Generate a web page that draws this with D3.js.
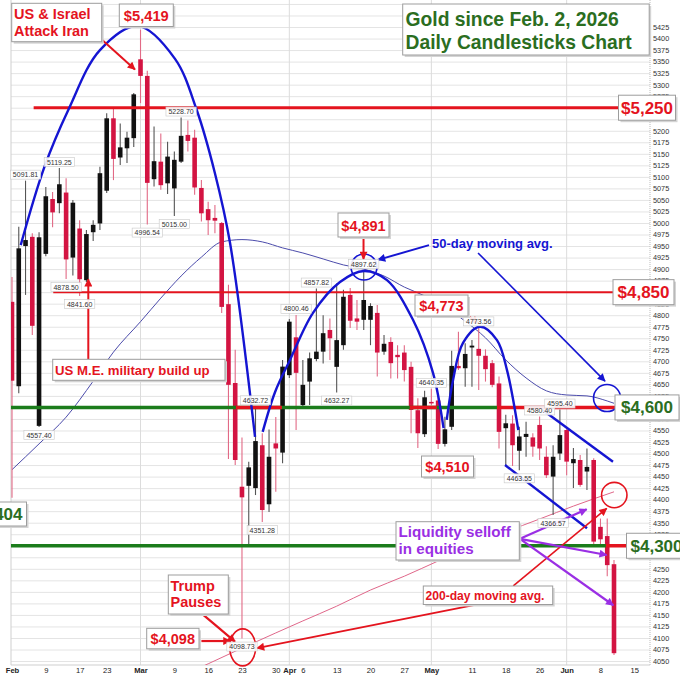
<!DOCTYPE html>
<html><head><meta charset="utf-8">
<script src="https://cdn.jsdelivr.net/npm/d3@7"></script>
<style>
html,body{margin:0;padding:0;background:#fff;}
svg{display:block;font-family:"Liberation Sans",Arial,sans-serif;}
</style></head><body>
<svg id="c" width="680" height="676"></svg>
<script>
// ---------------- DATA (trading-day index 0 = Feb 2, 2026) ----------------
const opens = [4829,4646,4950,4970,4560,4933,5052,5043,5066,4925,
  4988,4876,4980,4999,5070,5227,5142,5162,5184,5355,
  5319,5095,5133,5086,5075,5133,5191,5185,5076,5030,
  5011,5000,4824,4653,4428,4430,4425,4518,4390,4522,
  4502,4670,4752,4605,4656,4705,4721,4768,4688,4735,
  4844,4793,4790,4790,4805,4721,4742,4714,4719,4688,
  4594,4542,4612,4615,4521,4558,4690,4685,4730,4727,
  4712,4696,4652,4555,4565,4506,4536,4535,4562,4493,
  4450,4500,4551,4479,4486,4461,4486,4341,4321,4260];
const highs = [4883,4992,5091.81,4978,4980,5078,5067,5119.25,5097,5050,
  5006,4985,5006,5122,5238,5249,5216,5198,5282,5419,
  5330,5209,5194,5176,5155,5228.70,5222,5202,5093,5046,
  5039,5002,4866,4725,4535,4482,4603,4544,4552,4579,
  4703,4792,4800.46,4703,4719,4857.82,4800,4793,4869,4855,
  4859,4833,4897.62,4826,4822,4757,4752,4735,4735,4699,
  4620,4636,4640.35,4627,4580,4723,4764,4739,4746,4773.56,
  4726,4703,4667,4584,4583,4558,4569,4544,4580.40,4516,
  4518,4595.40,4558,4512,4497,4511,4490,4359,4359,4269];
const lows = [4404,4631,4844,4757,4557.40,4928,4991,5021,4878.50,4886,
  4841.60,4872,4961,4985,5065,5093,5126,5130,5165,5260,
  4996.54,5079,5072,5063,5015,5130,5155,5061,5003,4974,
  4978,4805,4488,4475,4098.73,4298,4410,4351.28,4373,4417,
  4479,4664,4551,4601,4605,4700,4695,4703,4632.27,4725,
  4772,4768,4768,4735,4667,4714,4663,4663,4656,4544,
  4512,4536,4605,4510,4515,4551,4681,4645,4645,4638,
  4656,4644,4511,4475,4473,4463.55,4493,4493,4486,4447,
  4366.57,4486,4453,4425,4428,4421,4298,4298,4234,4063];
const closes = [4658,4945,4963,4777,4969,5058,5023,5084,4921,5044,
  4878,4976,4996,5108,5227,5139,5164,5185,5279,5319,
  5087,5134,5082,5144,5137,5189,5178,5077,5021,5006,
  5005,4818,4649,4486,4405,4470,4527,4377.5,4493,4511,
  4688.5,4786,4675,4649,4706.5,4721,4761,4750,4746,4840,
  4788,4786,4833,4820,4719,4738,4696,4709,4681,4594.5,
  4544,4622,4609,4521,4552.5,4690,4685,4716,4734,4712,
  4683,4649,4547,4565.6,4518,4537,4542.6,4515,4511,4453,
  4493,4540,4482.5,4488,4432,4471,4309,4314,4258,4067];

// moving averages (day index, value)
const ma50Idx = [0,4,8,12,15,19,22,25,28,31,34,37,40,43,46,49,52,55,58,61,64,67,70,73,76,79,82,85,88,89];
const ma50Val = [4465,4521,4579,4657,4720,4786,4837,4885,4926,4959,4964,4959,4946,4935,4922,4909,4900,4885,4861,4842,4818,4787,4751,4703,4664,4636,4627,4625,4614,4609];
const ma200Idx = [24,29,34,39,43,48,53,58,63,68,73,78,83,89];
const ma200Val = [4011,4044,4078,4111,4137,4169,4204,4234,4267,4299,4330,4358,4386,4417];

// high / low price labels
const lblIdx  = [2,7,8,10,4,20,24,25,36,37,42,45,48,52,62,69,75,78,81,80,34];
const lblVal  = [5091.81,5119.25,4878.50,4841.60,4557.40,4996.54,5015.00,5228.70,4632.72,4351.28,4800.46,4857.82,4632.27,4897.62,4640.35,4773.56,4463.55,4580.40,4595.40,4366.57,4098.73];
const lblType = ['H','H','L','L','L','L','L','H','L','L','H','H','L','H','H','H','L','H','H','L','L'];

// x-axis ticks
const xTickIdx  = [0,5,10,14,19,24,29,34,39,41,43,48,53,58,62,68,73,78,82,87,92];
const xTickText = ['Feb','9','17','23','Mar','9','16','23','30','Apr','6','13','20','27','May','11','18','26','Jun','8','15'];
const monthIdx = [19,41,62,82];

// key price levels
const levels = [5250, 4850, 4600, 4300];

// y-axis ticks (the ones at the key levels sit under their price boxes)
const yGrid = d3.range(4050, 5476, 25);
const yTicks = d3.range(4050, 5426, 25).filter(v => !levels.includes(v));

// ---------------- CHART ----------------
const svg = d3.select('#c');
const x = d3.scaleLinear().domain([0, 89]).range([12, 614]);
const y = d3.scaleLinear().domain([4041.4, 5483.6]).range([665, 0]);
const RED = '#e4141e', CANDLE_RED = '#d31442', BLUE = '#1515d2', GREEN_LINE = '#1b7c1b',
      GREEN_TXT = '#2b6e1f', PURPLE = '#9a2fe4';

const defs = svg.append('defs');
defs.append('clipPath').attr('id', 'plot').append('rect')
  .attr('x', 11).attr('y', 0).attr('width', 639).attr('height', 665);
function marker(id, color) {
  defs.append('marker').attr('id', id).attr('viewBox', '0 0 10 10')
    .attr('refX', 9).attr('refY', 5).attr('markerWidth', 10).attr('markerHeight', 8)
    .attr('markerUnits', 'userSpaceOnUse').attr('orient', 'auto')
    .append('path').attr('d', 'M0,0L10,5L0,10Z').attr('fill', color);
}
marker('mr', RED); marker('mb', BLUE); marker('mp', PURPLE);

// grid
const grid = svg.append('g').attr('transform', 'translate(650,0)')
  .call(d3.axisLeft(y).tickValues(yGrid).tickSize(639).tickFormat(''));
grid.select('.domain').remove();
grid.selectAll('line').attr('stroke', '#e4e4e4').attr('stroke-width', 1);

svg.append('g').selectAll('line').data(monthIdx).join('line')
  .attr('x1', d => x(d)).attr('x2', d => x(d)).attr('y1', 0).attr('y2', 665)
  .attr('stroke', '#dcdcdc');
svg.append('line').attr('x1', 11).attr('x2', 11).attr('y1', 0).attr('y2', 665).attr('stroke', '#cfcfcf');
svg.append('line').attr('x1', 650).attr('x2', 650).attr('y1', 0).attr('y2', 665)
  .attr('stroke', '#bbb').attr('stroke-dasharray', '1,1');
svg.append('line').attr('x1', 11).attr('x2', 650).attr('y1', 665).attr('y2', 665).attr('stroke', '#cfcfcf');

// right axis labels
const ya = svg.append('g').attr('transform', 'translate(651,0)')
  .call(d3.axisRight(y).tickValues(yTicks).tickSize(0).tickPadding(2).tickFormat(d3.format('d')));
ya.select('.domain').remove();
ya.selectAll('text').attr('font-size', 7.3).attr('fill', '#333').attr('font-family', '"Liberation Sans",Arial,sans-serif');

// bottom axis labels
const xa = svg.append('g').attr('transform', 'translate(0,665)')
  .call(d3.axisBottom(x).tickValues(xTickIdx).tickSize(0).tickPadding(3).tickFormat((d, k) => xTickText[k]));
xa.select('.domain').remove();
xa.selectAll('text').attr('font-size', 7.6).attr('fill', '#222')
  .attr('font-family', '"Liberation Sans",Arial,sans-serif')
  .attr('font-weight', (d, k) => isNaN(+xTickText[k]) ? 'bold' : 'normal');

const plot = svg.append('g').attr('clip-path', 'url(#plot)');

// moving averages
const ma50 = ma50Idx.map((d, k) => [d, ma50Val[k]]);
const ma200 = ma200Idx.map((d, k) => [d, ma200Val[k]]);
const lineGen = d3.line().x(d => x(d[0])).y(d => y(d[1])).curve(d3.curveMonotoneX);
plot.append('path').datum(ma200).attr('d', lineGen).attr('fill', 'none').attr('stroke', '#e0678a').attr('stroke-width', 1);
plot.append('path').datum(ma50).attr('d', lineGen).attr('fill', 'none').attr('stroke', '#4b4bab').attr('stroke-width', 1);

// candles
const candles = d3.range(opens.length).map(i => ({i, o: opens[i], h: highs[i], l: lows[i], c: closes[i]}));
const cg = plot.append('g');
cg.selectAll('line').data(candles).join('line')
  .attr('x1', d => x(d.i)).attr('x2', d => x(d.i))
  .attr('y1', d => y(d.h)).attr('y2', d => y(d.l))
  .attr('stroke', d => d.c < d.o ? '#e26a86' : '#555').attr('stroke-width', 1.1);
cg.selectAll('rect').data(candles).join('rect')
  .attr('x', d => x(d.i) - 2.3).attr('width', 4.6)
  .attr('y', d => y(Math.max(d.o, d.c)))
  .attr('height', d => Math.max(1.5, Math.abs(y(d.o) - y(d.c))))
  .attr('fill', d => d.c < d.o ? CANDLE_RED : '#111');

// level lines
const lv = svg.append('g');
function hline(v, i0, i1, color, w) {
  lv.append('line').attr('x1', x(i0)).attr('x2', x(i1)).attr('y1', y(v)).attr('y2', y(v))
    .attr('stroke', color).attr('stroke-width', w);
}
hline(levels[0], 3.2, 89.8, RED, 3);
hline(levels[1], 6.1, 88.85, RED, 2);
hline(levels[2], -0.15, 71.7, GREEN_LINE, 3.5);
hline(levels[2], 71.7, 89.2, RED, 3.5);
hline(levels[2], 33.1, 39.9, RED, 3.5);
hline(levels[2], 58.8, 62.8, RED, 3.5);
hline(levels[3], -0.15, 87.8, GREEN_LINE, 3.5);
hline(levels[3], 87.8, 90.8, RED, 3.5);

// blue arcs and channel
const curve = d3.line().x(d => x(d[0])).y(d => y(d[1])).curve(d3.curveCatmullRom.alpha(0.5));
const arcs = [
  [[1.29,4952],[4.73,5119],[8.32,5245],[13.0,5375],[18.67,5427],[24.1,5356],[27.31,5245],[30.0,5108],[32.23,4957],[35.93,4536]],
  [[37.06,4547],[38.88,4633],[41.1,4703],[44.5,4805],[48.49,4872],[52.04,4896],[55.44,4876],[59.28,4790],[62.24,4675],[63.8,4555]],
  [[64.27,4573],[65.2,4659],[66.68,4740],[69.19,4775],[71.7,4746],[73.18,4681],[74.85,4551]]
];
const ag = svg.append('g');
arcs.forEach(a => ag.append('path').datum(a).attr('d', curve).attr('fill', 'none').attr('stroke', BLUE).attr('stroke-width', 2.4));
function seg(p0, p1, color, w, mk) {
  const l = ag.append('line').attr('x1', x(p0[0])).attr('y1', y(p0[1])).attr('x2', x(p1[0])).attr('y2', y(p1[1]))
    .attr('stroke', color).attr('stroke-width', w);
  if (mk) l.attr('marker-end', 'url(#' + mk + ')');
}
seg([78.5,4594], [88.85,4482], BLUE, 2.4);
seg([72.89,4475], [85.01,4338], BLUE, 2.4);

// price labels
const lg = svg.append('g');
lblIdx.forEach((ix, k) => {
  const cx = x(ix), cy = y(lblVal[k]) + (lblType[k] === 'H' ? -6 : 8);
  const t = lblVal[k].toFixed(2);
  const w = t.length * 3.9 + 3;
  lg.append('rect').attr('x', cx - w / 2).attr('y', cy - 4.5).attr('width', w).attr('height', 9)
    .attr('fill', '#fff').attr('fill-opacity', 0.9).attr('stroke', '#c8c8c8').attr('stroke-width', 0.6);
  lg.append('text').attr('x', cx).attr('y', cy + 2.5).attr('text-anchor', 'middle')
    .attr('font-size', 7).attr('fill', '#333').text(t);
});

// circles
function circ(i, v, rx, ry, color) {
  ag.append('ellipse').attr('cx', x(i)).attr('cy', y(v)).attr('rx', rx).attr('ry', ry)
    .attr('fill', 'none').attr('stroke', color).attr('stroke-width', 1.6);
}
circ(52.04, 4904.5, 13, 13, BLUE);
circ(87.97, 4620.4, 13.5, 13.5, BLUE);
circ(89.04, 4410, 12.7, 12.7, RED);
circ(34.1, 4079.7, 13, 18.5, RED);

// arrows
seg([61.65,4952], [54.11,4920], BLUE, 2, 'mb');
seg([68.9,4935], [87.67,4657], BLUE, 1.6, 'mb');
seg([13.26,5398], [18.18,5333], RED, 2, 'mr');
seg([11.28,4704], [11.28,4878], RED, 2, 'mr');
seg([51.97,4967], [51.97,4922], RED, 2, 'mr');
seg([66.97,4804], [68.94,4782], RED, 2, 'mr');
seg([28.28,4150], [32.97,4092], RED, 2.2, 'mr');
seg([28.0,4093.4], [32.3,4093.4], RED, 2.2, 'mr');
seg([74.11,4213], [87.92,4381], RED, 1.6, 'mr');
seg([69.19,4174], [36.22,4078], RED, 2, 'mr');
seg([75.1,4315], [84.96,4379], PURPLE, 2.2, 'mp');
seg([75.1,4315], [87.92,4280], PURPLE, 2.2, 'mp');
seg([75.1,4315], [88.9,4171], PURPLE, 2.2, 'mp');

// annotation boxes
const an = svg.append('g');
function box(x0, y0, w, h, shadow) {
  if (shadow !== false) an.append('rect').attr('x', x0 + 2).attr('y', y0 + 2).attr('width', w).attr('height', h).attr('fill', '#d4d4d4');
  an.append('rect').attr('x', x0).attr('y', y0).attr('width', w).attr('height', h)
    .attr('fill', '#fff').attr('stroke', '#9d9d9d').attr('stroke-width', 1);
}
function txt(x0, yb, s, color, size, anchor) {
  an.append('text').attr('x', x0).attr('y', yb).text(s).attr('fill', color)
    .attr('font-size', size).attr('font-weight', 'bold').attr('text-anchor', anchor || 'start');
}
// title
box(402.7, 4, 246.5, 51);
txt(405.5, 26, 'Gold since Feb. 2, 2026', GREEN_TXT, 19.3);
txt(405.5, 48.5, 'Daily Candlesticks Chart', GREEN_TXT, 19.3);
// top-left
box(11.7, 3.3, 90, 38.4);
txt(14, 18.5, 'US & Israel', RED, 14.5);
txt(14, 35.5, 'Attack Iran', RED, 14.5);
box(119.3, 4, 54, 22.5);
txt(146.3, 20.5, '$5,419', RED, 14.7, 'middle');
// level labels
function levelBox(v, x0, w, s, color) {
  const cy = y(v);
  box(x0, cy - 12.5, w, 25);
  txt(x0 + w / 2, cy + 6, s, color, 17, 'middle');
}
levelBox(levels[0], 618.5, 57, '$5,250', RED);
levelBox(levels[1], 613, 61, '$4,850', RED);
levelBox(levels[2], 615, 64, '$4,600', GREEN_TXT);
levelBox(levels[3], 626.5, 60, '$4,300', GREEN_TXT);
box(-12, 502, 38.5, 24);
txt(22.5, 520, '$4,404', GREEN_TXT, 17, 'end');
// middle labels
box(338, 213, 51, 24);
txt(363.5, 231, '$4,891', RED, 14.5, 'middle');
box(415, 295, 53, 21);
txt(441.5, 311, '$4,773', RED, 14.5, 'middle');
box(421.5, 456, 52, 21);
txt(447.5, 471.5, '$4,510', RED, 14.5, 'middle');
box(146.7, 628.3, 52.3, 20.5);
txt(172.8, 643.5, '$4,098', RED, 14.5, 'middle');
box(168.3, 575, 60, 39);
txt(170.5, 590.5, 'Trump', RED, 14.5);
txt(170.5, 607, 'Pauses', RED, 14.5);
box(52.7, 359.3, 172.3, 21);
txt(55, 375, 'US M.E. military build up', RED, 13.2);
box(396, 521.7, 123.3, 38.3);
txt(398.5, 536.5, 'Liquidity selloff', PURPLE, 15.2);
txt(398.5, 553.5, 'in equities', PURPLE, 15.2);
box(423.3, 586, 129.4, 18.5);
txt(425.5, 599.5, '200-day moving avg.', RED, 12.1);
txt(432, 248, '50-day moving avg.', BLUE, 13);
</script>
</body></html>
